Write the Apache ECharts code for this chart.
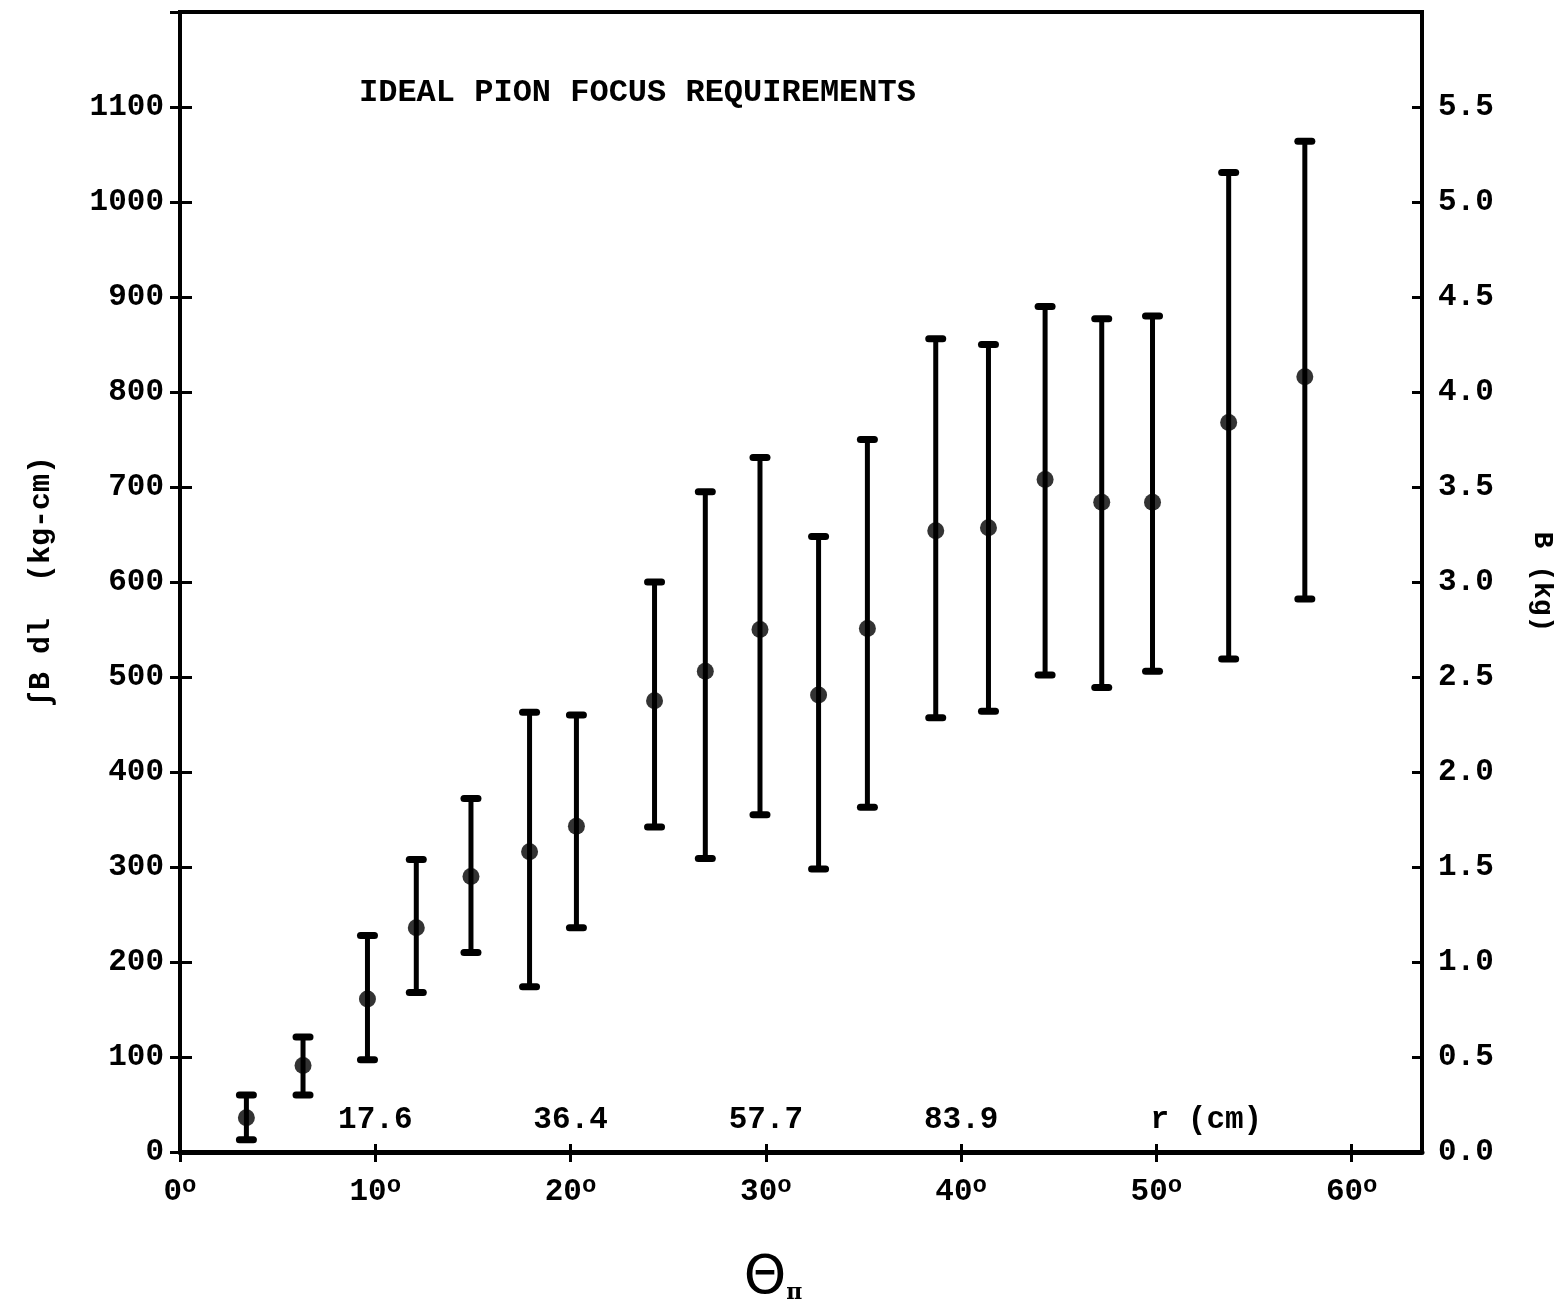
<!DOCTYPE html>
<html>
<head>
<meta charset="utf-8">
<script src="https://cdn.jsdelivr.net/npm/echarts@6/dist/echarts.min.js"></script>
<style>html,body{margin:0;padding:0;background:#fff;}#c{width:1554px;height:1302px;}</style>
</head>
<body>
<div id="c"></div>
<script>
// pion production angle (degrees)
const theta = [3.4, 6.3, 9.6, 12.1, 14.9, 17.9, 20.3, 24.3, 26.9, 29.7, 32.7, 35.2, 38.7, 41.4, 44.3, 47.2, 49.8, 53.7, 57.6];
// central value of the field integral (kg-cm)
const center = [36, 91, 161, 236, 290, 316, 343, 475, 506, 550, 481, 551, 654, 657, 708, 684, 684, 768, 816];
// lower end of the range
const low = [13, 60, 97, 168, 210, 174, 236, 342, 309, 355, 298, 363, 457, 464, 502, 489, 506, 519, 582];
// upper end of the range
const high = [60, 121, 228, 308, 372, 463, 460, 600, 695, 731, 648, 750, 856, 850, 890, 877, 880, 1031, 1064];
// radius labels written above the angle axis at 0,10,20,...
const rLabels = ['', '17.6', '36.4', '57.7', '83.9', 'r (cm)', ''];
const titleText = 'IDEAL PION FOCUS REQUIREMENTS';

const FONT = 'Liberation Mono';
const chart = echarts.init(document.getElementById('c'));

const dots = theta.map((t, i) => [t, center[i]]);
const bars = theta.map((t, i) => [t, low[i], high[i]]);

const lbl = {fontFamily: FONT, fontWeight: 'bold', fontSize: 31, color: '#000'};

chart.setOption({
  animation: false,
  backgroundColor: '#fff',
  title: {
    text: titleText, left: 354, top: 72,
    textStyle: {fontFamily: FONT, fontWeight: 'bold', fontSize: 32, color: '#000'}
  },
  grid: {left: 180, top: 12, width: 1242, height: 1140, show: true, borderColor: '#000', borderWidth: 4, containLabel: false, outerBoundsMode: 'none'},
  xAxis: [
    {
      type: 'value', min: 0, max: 63.6, interval: 10, position: 'bottom',
      axisLine: {show: true, lineStyle: {color: '#000', width: 5}},
      axisTick: {show: true, length: 10, lineStyle: {color: '#000', width: 3}},
      splitLine: {show: false},
      axisLabel: {
        margin: 22, showMaxLabel: false,
        formatter: v => (v % 10 === 0 ? '{n|' + v + '}{d|o}' : ''),
        rich: {
          n: {fontFamily: FONT, fontWeight: 'bold', fontSize: 31, color: '#000', lineHeight: 36},
          d: {fontFamily: FONT, fontWeight: 'bold', fontSize: 24, color: '#000', verticalAlign: 'top', lineHeight: 36, padding: [0, 0, 16, 0]}
        }
      },
      name: '{t|Θ}{s|π}', nameLocation: 'middle', nameGap: 100,
      nameTextStyle: {
        padding: [0, 56, 0, 0],
        rich: {
          t: {fontFamily: 'DejaVu Sans', fontSize: 54, color: '#000'},
          s: {fontFamily: 'DejaVu Serif', fontWeight: 'bold', fontSize: 22, color: '#000', padding: [28, 0, 0, 0]}
        }
      }
    },
    {
      type: 'value', min: 0, max: 63.6, interval: 10, position: 'bottom',
      axisLine: {show: false},
      axisTick: {show: true, inside: true, length: 8, lineStyle: {color: '#000', width: 3}},
      splitLine: {show: false},
      axisLabel: {
        inside: true, margin: 16, showMaxLabel: false,
        formatter: v => {
          if (v % 10 !== 0) return '';
          const s = rLabels[v / 10] || '';
          return s === 'r (cm)' ? '{r|' + s + '}' : s;
        },
        ...lbl,
        rich: {r: {fontFamily: FONT, fontWeight: 'bold', fontSize: 31, color: '#000', padding: [0, 0, 0, 100]}}
      }
    }
  ],
  yAxis: [
    {
      type: 'value', min: 0, max: 1200, interval: 100, position: 'left',
      axisLine: {show: true, lineStyle: {color: '#000', width: 4}},
      axisTick: {show: true, length: 10, lineStyle: {color: '#000', width: 3}},
      splitLine: {show: false},
      axisLabel: {margin: 16, formatter: v => (v >= 1200 ? '' : String(v)), ...lbl},
      name: '∫B dl  (kg-cm)', nameLocation: 'middle', nameGap: 124, nameRotate: 90,
      nameTextStyle: {fontFamily: FONT, fontWeight: 'bold', fontSize: 30, color: '#000'}
    },
    {
      type: 'value', min: 0, max: 6, interval: 0.5, position: 'right',
      axisLine: {show: true, lineStyle: {color: '#000', width: 4}},
      axisTick: {show: true, length: 12, lineStyle: {color: '#000', width: 3}},
      splitLine: {show: false},
      axisLabel: {margin: 16, formatter: v => (v >= 6 ? '' : v.toFixed(1)), ...lbl},
      name: 'B (kg)', nameLocation: 'middle', nameGap: 106, nameRotate: -90,
      nameTextStyle: {fontFamily: FONT, fontWeight: 'bold', fontSize: 28, color: '#000'}
    },
    {
      type: 'value', min: 0, max: 1200, interval: 100, position: 'left',
      axisLine: {show: false},
      axisTick: {show: true, inside: true, length: 7, lineStyle: {color: '#000', width: 3}},
      splitLine: {show: false}, axisLabel: {show: false}
    },
    {
      type: 'value', min: 0, max: 6, interval: 0.5, position: 'right',
      axisLine: {show: false},
      axisTick: {show: true, inside: true, length: 10, lineStyle: {color: '#000', width: 3}},
      splitLine: {show: false}, axisLabel: {show: false}
    }
  ],
  series: [
    {
      type: 'custom', xAxisIndex: 0, yAxisIndex: 0, data: bars,
      renderItem: (params, api) => {
        const x = api.value(0);
        const lo = api.coord([x, api.value(1)]);
        const hi = api.coord([x, api.value(2)]);
        const cw = 7;
        const st = {stroke: '#000', lineWidth: 5, lineCap: 'round'};
        const cap = {stroke: '#000', lineWidth: 7, lineCap: 'round'};
        return {
          type: 'group', children: [
            {type: 'line', shape: {x1: hi[0], y1: hi[1], x2: lo[0], y2: lo[1]}, style: st},
            {type: 'line', shape: {x1: hi[0] - cw, y1: hi[1], x2: hi[0] + cw, y2: hi[1]}, style: cap},
            {type: 'line', shape: {x1: lo[0] - cw, y1: lo[1], x2: lo[0] + cw, y2: lo[1]}, style: cap}
          ]
        };
      },
      z: 3
    },
    {
      type: 'scatter', xAxisIndex: 0, yAxisIndex: 0, data: dots,
      symbol: 'circle', symbolSize: 17, itemStyle: {color: '#000'}, z: 4
    }
  ]
});
</script>
</body>
</html>
